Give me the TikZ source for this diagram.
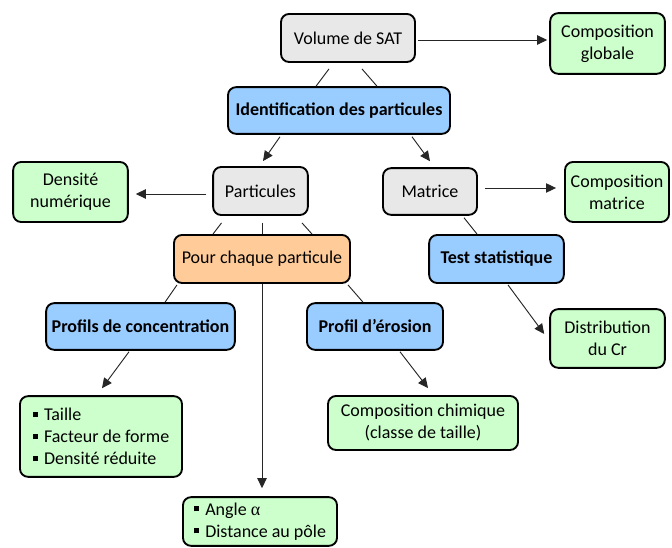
\documentclass[tikz,border=0pt]{standalone}
\usepackage{fontspec}
\setmainfont{Carlito}
\newfontfamily\greekserif{Liberation Serif}
\usetikzlibrary{arrows.meta,calc}
\definecolor{boxgrey}{HTML}{E8E8E8}
\definecolor{boxgreen}{HTML}{CCFFCC}
\definecolor{boxblue}{HTML}{99CCFF}
\definecolor{boxorange}{HTML}{FFCC99}
\newcommand{\sqbullet}{\raisebox{0.22em}{\rule{0.28em}{0.28em}}\hspace{0.35em}}
\begin{document}
\begin{tikzpicture}[x=0.75pt,y=-0.75pt,
  every node/.style={font=\fontsize{13.5}{16.5}\selectfont},
  cbox/.style={draw=black,line width=1.4pt,rounded corners=6pt,inner sep=0pt,align=center},
  greybox/.style={cbox,fill=boxgrey},
  greenbox/.style={cbox,fill=boxgreen},
  bluebox/.style={cbox,fill=boxblue,font=\fontsize{13.5}{16.5}\selectfont\bfseries},
  orangebox/.style={cbox,fill=boxorange},
  link/.style={line width=0.7pt,draw=black!85},
  arrowlink/.style={link,-{Triangle[length=7.5pt,width=7pt]}}]
\useasboundingbox (0,0) rectangle (672,548);
% nodes
\node[greybox,minimum width=100.5pt,minimum height=36pt] (vol) at (348,38) {Volume de SAT};
\node[greenbox,minimum width=86pt,minimum height=45.5pt] (glob) at (607.5,43.5) {Composition\\globale};
\node[bluebox,minimum width=166.5pt,minimum height=35pt] (idn) at (339,110.5) {Identification des particules};
\node[greybox,minimum width=71pt,minimum height=36pt] (part) at (260.5,191) {Particules};
\node[greenbox,minimum width=86pt,minimum height=45pt] (dens) at (70.5,192) {Densité\\numérique};
\node[greybox,minimum width=70.5pt,minimum height=35pt] (mat) at (430,191.5) {Matrice};
\node[greenbox,minimum width=78pt,minimum height=45pt] (cmat) at (617,192) {Composition\\matrice};
\node[bluebox,minimum width=101pt,minimum height=36pt] (test) at (496.5,259) {Test statistique};
\node[greenbox,minimum width=86pt,minimum height=44pt] (dist) at (607.5,338.5) {Distribution\\du Cr};
\node[orangebox,minimum width=132pt,minimum height=36pt] (pour) at (262,259) {Pour chaque particule};
\node[bluebox,minimum width=141.5pt,minimum height=35pt] (prof) at (140.5,326.5) {Profils de concentration};
\node[bluebox,minimum width=102pt,minimum height=35pt] (ero) at (375,326.5) {Profil d’érosion};
\node[greenbox,minimum width=121.5pt,minimum height=60.5pt,align=left] (tail) at (101,436.5)
  {\sqbullet Taille\\\sqbullet Facteur de forme\\\sqbullet Densité réduite};
\node[greenbox,minimum width=142.5pt,minimum height=40.5pt] (chim) at (423,423) {Composition chimique\\(classe de taille)};
\node[greenbox,minimum width=115.5pt,minimum height=36.5pt,align=left] (angl) at (260,521.5)
  {\sqbullet Angle {\greekserif α}\\\sqbullet Distance au pôle};
% connectors
\draw[arrowlink] ($(vol.east)+(2,2)$) -- ($(glob.west)+(-2,-3.5)$);
\draw[link] ($(vol.south)+(-19,6)$) -- ($(idn.north)+(-23,0)$);
\draw[link] ($(vol.south)+(14,6)$) -- ($(idn.north)+(38,0)$);
\draw[arrowlink] ($(idn.south)+(-59,2)$) -- ($(part.north)+(2.5,-5)$);
\draw[arrowlink] ($(idn.south)+(73,2)$) -- ($(mat.north)+(0,-6)$);
\draw[arrowlink] ($(part.west)+(-6,3)$) -- ($(dens.east)+(7,2)$);
\draw[arrowlink] ($(mat.east)+(7,-3.5)$) -- ($(cmat.west)+(-8,-4)$);
\draw[link] ($(part.south)+(-39,7)$) -- ($(pour.north)+(-49,0)$);
\draw[link] ($(part.south)+(1.5,7)$) -- ($(pour.north)+(0,0)$);
\draw[link] ($(part.south)+(41.5,7)$) -- ($(pour.north)+(50,0)$);
\draw[link] ($(mat.south)+(34,2)$) -- ($(test.north)+(-19.5,0)$);
\draw[arrowlink] ($(test.south)+(11.5,1)$) -- ($(dist.west)+(-5,-4.5)$);
\draw[link] ($(pour.south)+(-85,1)$) -- ($(prof.north)+(24.5,0)$);
\draw[link] ($(pour.south)+(86,1)$) -- ($(ero.north)+(-12,0)$);
\draw[arrowlink] (pour.south) -- ($(angl.north)+(2,-8)$);
\draw[arrowlink] ($(prof.south)+(-11.5,1)$) -- ($(tail.north)+(1,-7)$);
\draw[arrowlink] ($(ero.south)+(25,1)$) -- ($(chim.north)+(5,-7)$);
\end{tikzpicture}
\end{document}
